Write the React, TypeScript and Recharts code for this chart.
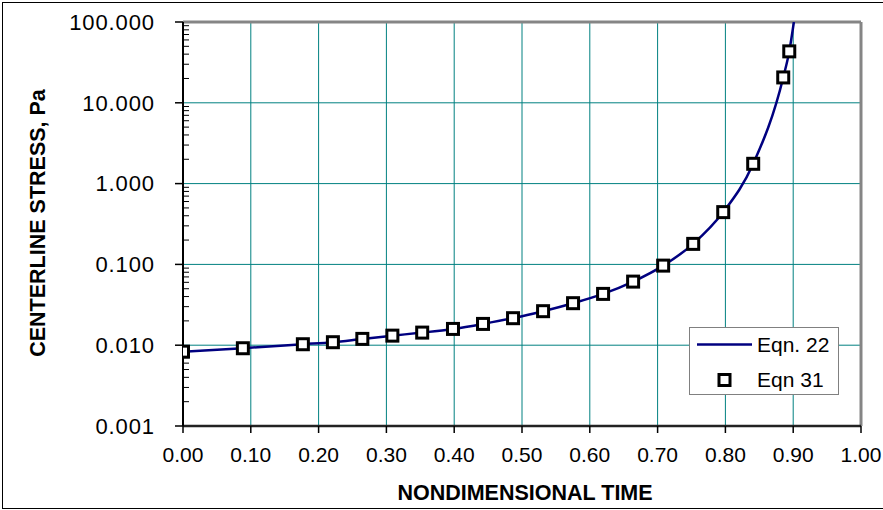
import React from "react";
import {
  ComposedChart,
  Line,
  Scatter,
  XAxis,
  YAxis,
  CartesianGrid,
  ReferenceLine,
  Legend,
  Label,
} from "recharts";

// Nondimensional time of the Eqn 31 points
const markerTimes = [
  0, 0.0883, 0.1768, 0.2211, 0.2645, 0.3088, 0.3528, 0.3982, 0.4425, 0.4868,
  0.5311, 0.5753, 0.6196, 0.6639, 0.7082, 0.7525, 0.7968, 0.841, 0.8853, 0.8942,
];
// Centerline stress (Pa), Eqn 31
const eqn31Values = [
  0.00832, 0.00917, 0.01028, 0.01089, 0.01197, 0.01313, 0.01432, 0.0159,
  0.01834, 0.02159, 0.02636, 0.03311, 0.04315, 0.06124, 0.0966, 0.1795, 0.4436,
  1.758, 20.6, 43.3,
];
// Eqn 22 curve
const curveTimes = [
  0, 0.0883, 0.1768, 0.2211, 0.2645, 0.3088, 0.3528, 0.3982, 0.4425, 0.4868,
  0.5311, 0.5753, 0.6196, 0.6639, 0.7082, 0.7525, 0.7968, 0.841, 0.8853, 0.8942,
  0.901,
];
const eqn22Values = [
  0.00832, 0.00917, 0.01028, 0.01089, 0.01197, 0.01313, 0.01432, 0.0159,
  0.01834, 0.02159, 0.02636, 0.03311, 0.04315, 0.06124, 0.0966, 0.1795, 0.4436,
  1.758, 20.6, 43.3, 100,
];

const xTicks = [0, 0.1, 0.2, 0.3, 0.4, 0.5, 0.6, 0.7, 0.8, 0.9, 1.0];
const yTicks = [0.001, 0.01, 0.1, 1, 10, 100];
const decadeStarts = [0.001, 0.01, 0.1, 1, 10];
const minorMultipliers = [2, 3, 4, 5, 6, 7, 8, 9];

const seriesNames = ["Eqn. 22", "Eqn 31"];

const markerData = markerTimes.map((t, i) => ({ t, v: eqn31Values[i] }));
const curveData = curveTimes.map((t, i) => ({ t, v: eqn22Values[i] }));
const minorTicks: number[] = [];
decadeStarts.forEach((d) =>
  minorMultipliers.forEach((m) => minorTicks.push(+(d * m).toPrecision(3)))
);

const FONT = "'Liberation Sans', Arial, Helvetica, sans-serif";
const NAVY = "#000080";
const TEAL = "#008080";

const SquareMarker = (props: any) => {
  const { cx, cy } = props;
  if (cx == null || cy == null) return null;
  return (
    <rect
      x={cx - 5.5}
      y={cy - 5.5}
      width={11}
      height={11}
      fill="#ffffff"
      stroke="#000000"
      strokeWidth={3}
    />
  );
};

const LegendBox = () => (
  <div
    style={{
      width: 148,
      height: 66,
      border: "1px solid #808080",
      background: "#ffffff",
      fontFamily: FONT,
      fontSize: 21,
      color: "#000",
      position: "relative",
    }}
  >
    <svg width={148} height={66} style={{ position: "absolute", left: 0, top: 0 }}>
      <line x1={7} y1={16.5} x2={62} y2={16.5} stroke={NAVY} strokeWidth={2.5} />
      <rect x={29} y={46.5} width={11} height={11} fill="#fff" stroke="#000" strokeWidth={3} />
      <text x={67} y={24} fontFamily={FONT} fontSize={21} fill="#000">
        {seriesNames[0]}
      </text>
      <text x={67} y={59} fontFamily={FONT} fontSize={21} fill="#000">
        {seriesNames[1]}
      </text>
    </svg>
  </div>
);

export default function App() {
  return (
    <div
      style={{
        position: "absolute",
        left: 0,
        top: 0,
        width: 883,
        height: 510,
        background: "#ffffff",
        overflow: "hidden",
      }}
    >
      <div
        style={{
          position: "absolute",
          left: 2,
          top: 2,
          width: 900,
          height: 505,
          border: "1px solid #000",
        }}
      />
      <ComposedChart
        width={883}
        height={510}
        margin={{ top: 22, right: 22, left: 103, bottom: 24 }}
        style={{ position: "absolute", left: 0, top: 0 }}
      >
        <CartesianGrid
          stroke={TEAL}
          strokeWidth={1}
          verticalValues={xTicks}
          horizontalValues={yTicks}
        />
        <XAxis
          dataKey="t"
          type="number"
          domain={[0, 1]}
          ticks={xTicks}
          allowDataOverflow
          height={60}
          tickSize={7}
          tickMargin={14}
          tickFormatter={(v: number) => v.toFixed(2)}
          tick={{ fontFamily: FONT, fontSize: 21, fill: "#000" }}
          axisLine={{ stroke: "#222", strokeWidth: 2.5 }}
          tickLine={{ stroke: "#000", strokeWidth: 1.5 }}
          interval={0}
        >
          <Label
            content={() => (
              <text
                x={525}
                y={500}
                textAnchor="middle"
                fontFamily={FONT}
                fontSize={21.5}
                fontWeight="bold"
                fill="#000"
              >
                NONDIMENSIONAL TIME
              </text>
            )}
          />
        </XAxis>
        <YAxis
          dataKey="v"
          type="number"
          scale="log"
          domain={[0.001, 100]}
          ticks={yTicks}
          allowDataOverflow
          width={80}
          tickSize={8}
          tickMargin={20}
          tickFormatter={(v: number) => v.toFixed(3)}
          tick={{ fontFamily: FONT, fontSize: 22, fill: "#000", letterSpacing: 0.9 }}
          axisLine={{ stroke: "#000", strokeWidth: 2 }}
          tickLine={{ stroke: "#000", strokeWidth: 1.5 }}
          interval={0}
        >
          <Label
            content={() => (
              <text
                x={45}
                y={223}
                textAnchor="middle"
                fontFamily={FONT}
                fontSize={21.5}
                fontWeight="bold"
                fill="#000"
                transform="rotate(-90, 45, 223)"
              >
                CENTERLINE STRESS, Pa
              </text>
            )}
          />
        </YAxis>
        {minorTicks.map((m) => (
          <ReferenceLine
            key={"m" + m}
            y={m}
            ifOverflow="visible"
            shape={(p: any) => (
              <line
                x1={p.x1}
                y1={p.y1}
                x2={p.x1 + 6}
                y2={p.y1}
                stroke="#000"
                strokeWidth={1}
              />
            )}
          />
        ))}
        <ReferenceLine y={100} stroke="#858585" strokeWidth={3} ifOverflow="visible" />
        <ReferenceLine x={1} stroke="#858585" strokeWidth={3} ifOverflow="visible" />
        <Line
          data={curveData}
          dataKey="v"
          type="monotone"
          stroke={NAVY}
          strokeWidth={2.5}
          dot={false}
          activeDot={false}
          isAnimationActive={false}
          name={seriesNames[0]}
        />
        <Scatter
          data={markerData}
          dataKey="v"
          shape={SquareMarker}
          isAnimationActive={false}
          name={seriesNames[1]}
        />
        <Legend
          layout="vertical"
          align="center"
          verticalAlign="middle"
          content={() => <LegendBox />}
          wrapperStyle={{ left: 689, top: 327, width: 150, height: 68 }}
        />
      </ComposedChart>
    </div>
  );
}
